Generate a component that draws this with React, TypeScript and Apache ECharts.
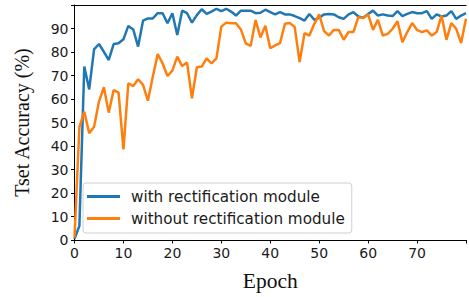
import React, { useEffect, useRef } from "react";
import * as echarts from "echarts";

const epochs: number[] = Array.from({ length: 81 }, (_, i) => i);

const withRect: number[] = [
  0.5, 6, 73.8, 64.1, 81.1, 83.4, 80.1, 76.6, 83.4, 83.7,
  85.4, 91.1, 89.6, 82.3, 93.3, 94.3, 94.3, 96.5, 96.5, 92.2,
  96.5, 87.2, 97.6, 96.5, 92.5, 95.7, 98.2, 96.2, 97.2, 98.4,
  97.4, 98.4, 97.2, 95.5, 97.6, 97.6, 97.6, 96.5, 96.7, 98.0,
  97.0, 96.0, 97.0, 96.0, 96.0, 95.3, 94.4, 93.4, 96.2, 93.7,
  94.6, 96.0, 96.2, 96.0, 94.8, 94.1, 96.0, 97.0, 95.1, 94.6,
  96.2, 97.6, 95.5, 96.0, 95.5, 95.3, 97.4, 95.3, 96.2, 97.0,
  96.5, 96.5, 97.4, 94.1, 96.0, 95.1, 95.5, 97.4, 94.1, 95.5,
  96.5,
];

const withoutRect: number[] = [
  1, 48, 54.6, 45.4, 48.2, 58.9, 65.0, 54.2, 63.8, 62.7,
  38.6, 66.7, 65.5, 68.4, 66.0, 59.3, 69.5, 79.1, 75.2, 69.8,
  72.1, 78.0, 74.0, 75.5, 60.3, 73.5, 73.8, 77.3, 75.2, 77.3,
  90.8, 92.5, 92.2, 92.2, 89.6, 83.7, 82.6, 93.6, 86.2, 91.2,
  81.6, 82.8, 83.8, 92.0, 92.3, 90.6, 75.7, 88.0, 87.0, 92.0,
  96.0, 88.9, 87.0, 89.4, 89.4, 85.2, 88.5, 88.5, 94.8, 94.5,
  96.0, 89.4, 93.7, 87.0, 87.7, 89.9, 93.1, 84.2, 88.5, 92.3,
  89.4, 88.5, 89.2, 87.0, 88.5, 95.5, 85.2, 92.3, 89.9, 83.8,
  94.1,
];

const seriesNames: string[] = ["with rectification module", "without rectification module"];
const seriesColors: string[] = ["#1f77b4", "#ff7f0e"];

const xMax = 80;
const yMax = 100;

export default function App() {
  const ref = useRef<HTMLDivElement>(null);

  useEffect(() => {
    document.body.style.margin = "0";
    if (!ref.current) return;
    const chart = echarts.init(ref.current, undefined, { renderer: "svg" });
    const tickFont = { fontFamily: "DejaVu Sans", fontSize: 14, color: "#1a1a1a" };
    chart.setOption({
      animation: false,
      backgroundColor: "#ffffff",
      grid: { left: 74.5, top: 5, right: 0, bottom: 56, containLabel: false },
      legend: {
        left: 83,
        top: 183,
        orient: "vertical",
        icon: "rect",
        itemWidth: 33,
        itemHeight: 3,
        itemGap: 5,
        padding: [5, 7, 6, 4],
        backgroundColor: "rgba(255,255,255,0.8)",
        borderColor: "#d0d0d0",
        borderWidth: 1,
        borderRadius: 3,
        data: seriesNames,
        textStyle: {
          fontFamily: "DejaVu Sans",
          fontSize: 15.2,
          color: "#1a1a1a",
          lineHeight: 17,
          padding: [0, 0, 0, 6],
        },
      },
      xAxis: [
        {
          type: "value",
          min: 0,
          max: xMax,
          interval: 10,
          name: "Epoch",
          nameLocation: "middle",
          nameGap: 30,
          nameTextStyle: { fontFamily: "Liberation Serif", fontSize: 21.5, color: "#111" },
          axisLine: { show: true, onZero: false, lineStyle: { color: "#000", width: 1 } },
          axisTick: { show: true, inside: false, length: 3.5, lineStyle: { color: "#000" } },
          axisLabel: {
            ...tickFont,
            margin: 6,
            formatter: (v: number) => (v >= xMax ? "" : String(v)),
          },
          splitLine: { show: false },
        },
        {
          type: "value",
          min: 0,
          max: xMax,
          position: "top",
          axisLine: { show: true, onZero: false, lineStyle: { color: "#000", width: 1 } },
          axisTick: { show: false },
          axisLabel: { show: false },
          splitLine: { show: false },
        },
      ],
      yAxis: {
        type: "value",
        min: 0,
        max: yMax,
        interval: 10,
        name: "Tset Accuracy (%)",
        nameLocation: "middle",
        nameGap: 43,
        nameRotate: 90,
        nameTextStyle: { fontFamily: "Liberation Serif", fontSize: 20, color: "#111" },
        axisLine: { show: true, onZero: false, lineStyle: { color: "#000", width: 1 } },
        axisTick: { show: true, inside: false, length: 3.5, lineStyle: { color: "#000" } },
        axisLabel: {
          ...tickFont,
          margin: 6,
          formatter: (v: number) => (v >= yMax ? "" : String(v)),
        },
        splitLine: { show: false },
      },
      series: [
        {
          name: seriesNames[0],
          type: "line",
          data: epochs.map((e, i) => [e, withRect[i]]),
          showSymbol: false,
          symbol: "none",
          color: seriesColors[0],
          lineStyle: { color: seriesColors[0], width: 2.5 },
          z: 2,
        },
        {
          name: seriesNames[1],
          type: "line",
          data: epochs.map((e, i) => [e, withoutRect[i]]),
          showSymbol: false,
          symbol: "none",
          color: seriesColors[1],
          lineStyle: { color: seriesColors[1], width: 2.5 },
          z: 3,
        },
      ],
    });
    return () => chart.dispose();
  }, []);

  return (
    <div
      ref={ref}
      style={{ position: "absolute", left: 0, top: 0, width: 469, height: 297 }}
    />
  );
}
